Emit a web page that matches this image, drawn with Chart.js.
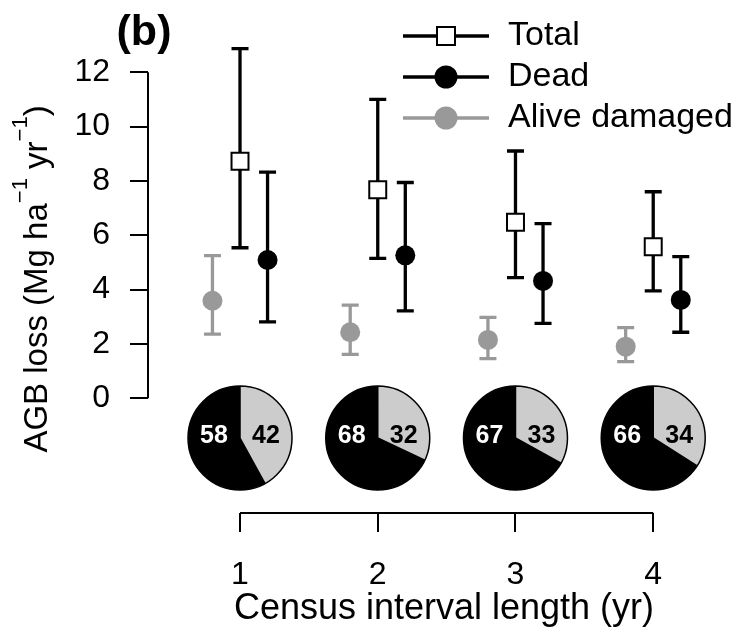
<!DOCTYPE html>
<html>
<head>
<meta charset="utf-8">
<script src="https://cdn.jsdelivr.net/npm/chart.js@4/dist/chart.umd.min.js"></script>
<style>
  html, body { margin: 0; padding: 0; background: #fff; }
</style>
</head>
<body>
<canvas id="grafico" width="740" height="632"></canvas>
<script>
// datos (b)
const intervalos = [1, 2, 3, 4]
const totalMedia = [8.72, 7.67, 6.48, 5.58]
const totalBajo = [5.54, 5.15, 4.44, 3.95]
const totalAlto = [12.87, 11.00, 9.10, 7.60]
const muertoMedia = [5.09, 5.26, 4.32, 3.62]
const muertoBajo = [2.81, 3.22, 2.76, 2.43]
const muertoAlto = [8.32, 7.94, 6.43, 5.21]
const vivoMedia = [3.59, 2.43, 2.15, 1.90]
const vivoBajo = [2.36, 1.62, 1.46, 1.35]
const vivoAlto = [5.25, 3.43, 2.98, 2.60]
const pctMuerto = [58, 68, 67, 66]
const pctVivo = [42, 32, 33, 34]
const yTicks = [0, 2, 4, 6, 8, 10, 12]

const FUENTE = '"Liberation Sans", Arial, Helvetica, sans-serif'
const GRIS = '#999999'
const GRIS_CLARO = '#cccccc'
const desplazamiento = 0.2 // separacion de las series dentro de cada intervalo
const yTorta = -1.46 // altura de las tortas (en unidades del eje y)

const armarPuntos = (media, bajo, alto, dx) => intervalos.map((c, i) => ({
    x: c + dx, y: media[i], lo: bajo[i], hi: alto[i]
}))

// barras de error al estilo arrows(..., angle = 90)
const barrasError = {
    id: 'barrasError',
    beforeDatasetsDraw(chart) {
        const { ctx, scales: { x, y } } = chart
        chart.data.datasets.forEach(ds => {
            ctx.save()
            ctx.strokeStyle = ds.colorError
            ctx.lineWidth = 3.3
            ds.data.forEach(p => {
                const px = x.getPixelForValue(p.x)
                const yl = y.getPixelForValue(p.lo)
                const yh = y.getPixelForValue(p.hi)
                ctx.beginPath()
                ctx.moveTo(px, yl)
                ctx.lineTo(px, yh)
                ctx.moveTo(px - 8.5, yl)
                ctx.lineTo(px + 8.5, yl)
                ctx.moveTo(px - 8.5, yh)
                ctx.lineTo(px + 8.5, yh)
                ctx.stroke()
            })
            ctx.restore()
        })
    }
}

// tortas con el porcentaje muerto / vivo dañado
const tortas = {
    id: 'tortas',
    afterDatasetsDraw(chart) {
        const { ctx, scales: { x, y } } = chart
        const r = 52
        intervalos.forEach((c, i) => {
            const cx = x.getPixelForValue(c)
            const cy = y.getPixelForValue(yTorta)
            const inicio = -Math.PI / 2
            const corte = inicio + 2 * Math.PI * pctVivo[i] / (pctVivo[i] + pctMuerto[i])
            ctx.save()
            ctx.beginPath()
            ctx.moveTo(cx, cy)
            ctx.arc(cx, cy, r, inicio, corte)
            ctx.closePath()
            ctx.fillStyle = GRIS_CLARO
            ctx.fill()
            ctx.beginPath()
            ctx.moveTo(cx, cy)
            ctx.arc(cx, cy, r, corte, inicio + 2 * Math.PI)
            ctx.closePath()
            ctx.fillStyle = '#000'
            ctx.fill()
            ctx.strokeStyle = '#000'
            ctx.lineWidth = 1.5
            ctx.beginPath()
            ctx.arc(cx, cy, r, 0, 2 * Math.PI)
            ctx.moveTo(cx, cy)
            ctx.lineTo(cx, cy - r)
            ctx.moveTo(cx, cy)
            ctx.lineTo(cx + r * Math.cos(corte), cy + r * Math.sin(corte))
            ctx.stroke()
            ctx.font = `bold 25px ${FUENTE}`
            ctx.textAlign = 'center'
            ctx.textBaseline = 'middle'
            ctx.fillStyle = '#fff'
            ctx.fillText(String(pctMuerto[i]), cx - 26, cy - 2)
            ctx.fillStyle = '#000'
            ctx.fillText(String(pctVivo[i]), cx + 26, cy - 2)
            ctx.restore()
        })
    }
}

// lineas de los ejes, leyenda, titulo del eje y y la etiqueta (b)
const decoracion = {
    id: 'decoracion',
    afterDraw(chart) {
        const { ctx, chartArea, scales: { x, y } } = chart
        ctx.save()
        ctx.strokeStyle = '#000'
        ctx.lineWidth = 2
        ctx.beginPath()
        ctx.moveTo(chartArea.left, y.getPixelForValue(yTicks[0]))
        ctx.lineTo(chartArea.left, y.getPixelForValue(yTicks[yTicks.length - 1]))
        ctx.moveTo(x.getPixelForValue(intervalos[0]), chartArea.bottom)
        ctx.lineTo(x.getPixelForValue(intervalos[intervalos.length - 1]), chartArea.bottom)
        ctx.stroke()

        // titulo del eje y con superindices
        const partes = [
            ['AGB loss (Mg ha', false], ['\u22121', true], [' yr', false], ['\u22121', true], [')', false]
        ]
        const fNormal = `33px ${FUENTE}`
        const fSup = `22px ${FUENTE}`
        let largo = 0
        partes.forEach(([t, sup]) => {
            ctx.font = sup ? fSup : fNormal
            largo += ctx.measureText(t).width
        })
        const centroY = (chartArea.top + chartArea.bottom) / 2
        ctx.translate(47, centroY)
        ctx.rotate(-Math.PI / 2)
        ctx.fillStyle = '#000'
        ctx.textBaseline = 'alphabetic'
        ctx.textAlign = 'left'
        let pos = -largo / 2
        partes.forEach(([t, sup]) => {
            ctx.font = sup ? fSup : fNormal
            ctx.fillText(t, pos, sup ? -20 : 0)
            pos += ctx.measureText(t).width
        })
        ctx.restore()

        // etiqueta (b)
        ctx.save()
        ctx.fillStyle = '#000'
        ctx.font = `bold 43px ${FUENTE}`
        ctx.textAlign = 'center'
        ctx.textBaseline = 'alphabetic'
        ctx.fillText('(b)', 144, 45)
        ctx.restore()

        // leyenda
        ctx.save()
        chart.data.datasets.forEach((ds, i) => {
            const fy = 36 + i * 41
            ctx.strokeStyle = ds.colorError
            ctx.lineWidth = 3.3
            ctx.beginPath()
            ctx.moveTo(403, fy)
            ctx.lineTo(489, fy)
            ctx.stroke()
            ctx.lineWidth = 2
            if (ds.pointStyle === 'rect') {
                ctx.fillStyle = '#fff'
                ctx.strokeStyle = '#000'
                ctx.fillRect(437, fy - 9, 18, 18)
                ctx.strokeRect(437, fy - 9, 18, 18)
            } else {
                ctx.fillStyle = ds.backgroundColor
                ctx.beginPath()
                ctx.arc(446, fy, 11.5, 0, 2 * Math.PI)
                ctx.fill()
            }
            ctx.fillStyle = '#000'
            ctx.font = `34px ${FUENTE}`
            ctx.textAlign = 'left'
            ctx.textBaseline = 'alphabetic'
            ctx.fillText(ds.label, 508, fy + 9)
        })
        ctx.restore()
    }
}

const ctx = document.getElementById('grafico')

const data = {
    datasets: [
        {
            label: 'Total',
            data: armarPuntos(totalMedia, totalBajo, totalAlto, 0),
            pointStyle: 'rect',
            pointRadius: 12,
            backgroundColor: '#fff',
            borderColor: '#000',
            borderWidth: 2,
            colorError: '#000'
        },
        {
            label: 'Dead',
            data: armarPuntos(muertoMedia, muertoBajo, muertoAlto, desplazamiento),
            pointStyle: 'circle',
            pointRadius: 10,
            backgroundColor: '#000',
            borderColor: '#000',
            borderWidth: 0,
            colorError: '#000'
        },
        {
            label: 'Alive damaged',
            data: armarPuntos(vivoMedia, vivoBajo, vivoAlto, -desplazamiento),
            pointStyle: 'circle',
            pointRadius: 10,
            backgroundColor: GRIS,
            borderColor: GRIS,
            borderWidth: 0,
            colorError: GRIS
        }
    ]
}

const config = {
    type: 'scatter',
    data: data,
    options: {
        responsive: false,
        animation: false,
        layout: { autoPadding: false, padding: { top: 45, right: 0, left: 0, bottom: 0 } },
        plugins: {
            legend: { display: false },
            tooltip: { enabled: false }
        },
        scales: {
            x: {
                type: 'linear',
                min: 0.332,
                max: 4.63,
                afterBuildTicks: s => { s.ticks = intervalos.map(v => ({ value: v })) },
                afterFit: s => {
                    s.height = 119
                    s.paddingLeft = 0
                    s.paddingRight = 0
                },
                border: { display: false },
                grid: { drawOnChartArea: false, drawTicks: true, tickLength: 19, color: '#000', lineWidth: 2 },
                ticks: {
                    color: '#000',
                    font: { family: FUENTE, size: 32 },
                    padding: 24,
                    maxRotation: 0,
                    autoSkip: false
                },
                title: {
                    display: true,
                    text: 'Census interval length (yr)',
                    color: '#000',
                    font: { family: FUENTE, size: 36 },
                    padding: { top: 0, bottom: 1 }
                }
            },
            y: {
                min: -4.22,
                max: 13.0,
                afterBuildTicks: s => { s.ticks = yTicks.map(v => ({ value: v })) },
                afterFit: s => {
                    s.width = 148
                    s.paddingTop = 0
                    s.paddingBottom = 0
                },
                border: { display: false },
                grid: { drawOnChartArea: false, drawTicks: true, tickLength: 18, color: '#000', lineWidth: 2 },
                ticks: {
                    color: '#000',
                    font: { family: FUENTE, size: 32 },
                    padding: 20,
                    autoSkip: false
                }
            }
        }
    },
    plugins: [barrasError, tortas, decoracion]
}

const miGrafico = new Chart(ctx, config)
</script>
</body>
</html>
